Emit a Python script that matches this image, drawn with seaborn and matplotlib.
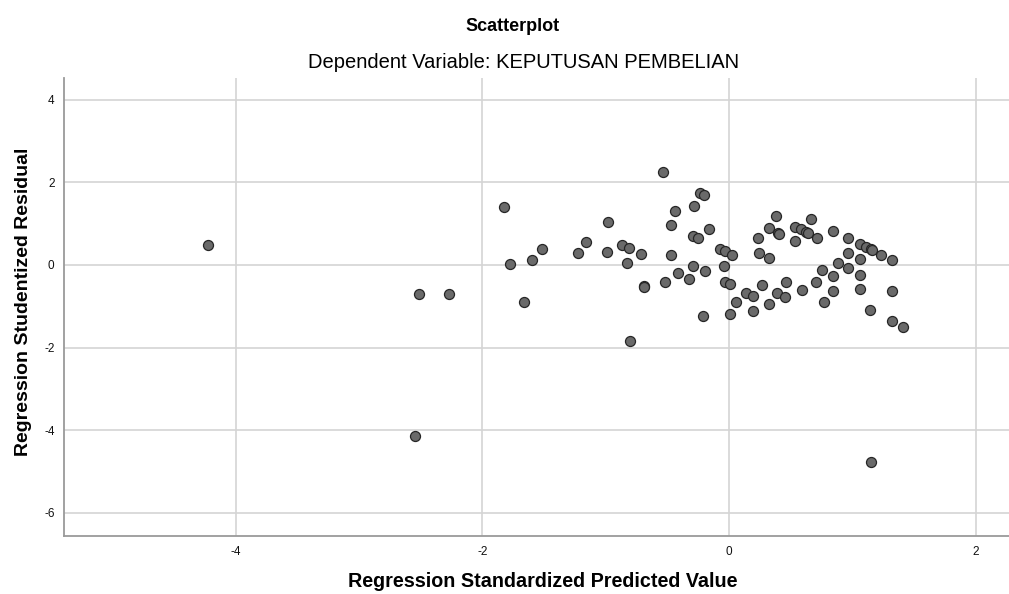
import numpy as np
import pandas as pd
import seaborn as sns
import matplotlib

matplotlib.use("Agg")
import matplotlib.pyplot as plt

# values
predicted = [
    -4.222, -2.516, -2.270, -2.546,
    -1.821, -1.778, -1.659, -1.599, -1.518, -1.223, -1.161, -0.993, -0.982,
    -0.866, -0.812, -0.825, -0.801, -0.714, -0.690, -0.686, -0.536, -0.517,
    -0.468, -0.468, -0.436, -0.417, -0.327, -0.287, -0.290, -0.290, -0.249,
    -0.238, -0.206, -0.208, -0.198, -0.160, -0.073, -0.030, -0.038, -0.032,
    0.008, 0.022, 0.008, 0.057,
    0.141, 0.192, 0.192, 0.232, 0.243, 0.268, 0.322, 0.322, 0.322, 0.381,
    0.392, 0.400, 0.405, 0.451, 0.459, 0.538, 0.538, 0.584, 0.589, 0.627,
    0.638, 0.668, 0.705, 0.716, 0.757, 0.768, 0.846, 0.846, 0.846, 0.884,
    0.962, 0.962, 0.962, 1.062, 1.065, 1.065, 1.065, 1.114, 1.143, 1.154,
    1.162, 1.232, 1.322, 1.322, 1.322, 1.411, 1.149,
]
residual = [
    0.477, -0.703, -0.700, -4.138,
    1.403, 0.024, -0.895, 0.129, 0.379, 0.290, 0.565, 0.315, 1.040,
    0.484, 0.411, 0.056, -1.831, 0.258, -0.516, -0.522, 2.242, -0.411,
    0.976, 0.242, 1.315, -0.202, -0.331, 1.435, 0.710, -0.016, 0.645,
    1.750, 1.685, -1.234, -0.153, 0.879, 0.387, 0.331, -0.016, -0.411,
    -0.468, 0.242, -1.194, -0.903,
    -0.669, -0.742, -1.105, 0.661, 0.282, -0.492, 0.887, 0.161, -0.935, 1.185,
    -0.669, 0.770, 0.760, -0.766, -0.419, 0.927, 0.573, 0.863, -0.605, 0.806,
    0.782, 1.105, -0.419, 0.661, -0.121, -0.887, 0.831, -0.266, -0.629, 0.040,
    0.661, 0.290, -0.073, 0.500, 0.137, -0.234, -0.589, 0.444, -1.089, 0.379,
    0.371, 0.250, 0.113, -0.621, -1.355, -1.492, -4.780,
]

x_ticks = [-4, -2, 0, 2]
y_ticks = [-6, -4, -2, 0, 2, 4]

df = pd.DataFrame({"predicted": predicted, "residual": residual})

sns.set_style("white")
plt.rcParams["font.family"] = ["Liberation Sans", "DejaVu Sans"]
plt.rcParams["axes.unicode_minus"] = False
plt.rcParams["text.color"] = "black"

fig = plt.figure(figsize=(10.09, 5.94), dpi=100)
ax = fig.add_axes([0.0637, 0.098, 0.9363, 0.7715])

ax.set_axisbelow(True)
ax.grid(True, color="#d4d4d4", linewidth=1.2)

sns.scatterplot(
    data=df,
    x="predicted",
    y="residual",
    ax=ax,
    s=52,
    color="#6a6a6a",
    edgecolor="#262626",
    linewidth=0.9,
    zorder=3,
)

ax.set_xlim(-5.39, 2.27)
ax.set_ylim(-6.56, 4.54)
ax.set_xticks(x_ticks)
ax.set_yticks(y_ticks)
ax.tick_params(length=0, labelsize=8.5, colors="#111111", pad=7)

for side in ["top", "right"]:
    ax.spines[side].set_visible(False)
for side in ["left", "bottom"]:
    ax.spines[side].set_color("#9a9a9a")
    ax.spines[side].set_linewidth(1.3)

ax.set_xlabel("")
ax.set_ylabel("")
fig.text(0.538, 0.0207, "Regression Standardized Predicted Value",
         ha="center", va="center", fontsize=14.2, fontweight="bold")
fig.text(0.023, 0.4924, "Regression Studentized Residual", rotation=90,
         ha="center", va="center", fontsize=14, fontweight="bold")

fig.text(0.5084, 0.955, "Scatterplot", ha="center", va="center",
         fontsize=13, fontweight="bold")
fig.text(0.519, 0.894, "Dependent Variable: KEPUTUSAN PEMBELIAN",
         ha="center", va="center", fontsize=14.5)

plt.savefig("out.png", dpi=100)
